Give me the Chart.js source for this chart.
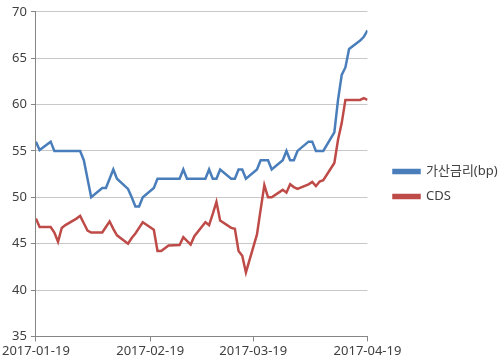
<!DOCTYPE html>
<html>
<head>
<meta charset="utf-8">
<script src="https://cdn.jsdelivr.net/npm/chart.js@4"></script>
<style>
  html, body { margin: 0; padding: 0; background: #fff; }
  #wrap { width: 500px; height: 363px; }
</style>
</head>
<body>
<div id="wrap"><canvas id="spreadChart"></canvas></div>
<script>
// trading days, 2017-01-19 .. 2017-04-19
const dates = [
  '2017-01-19', '2017-01-20', '2017-01-23', '2017-01-24', '2017-01-25', '2017-01-26', '2017-01-27',
  '2017-01-30', '2017-01-31', '2017-02-01', '2017-02-02', '2017-02-03',
  '2017-02-06', '2017-02-07', '2017-02-08', '2017-02-09', '2017-02-10',
  '2017-02-13', '2017-02-14', '2017-02-15', '2017-02-16', '2017-02-17',
  '2017-02-20', '2017-02-21', '2017-02-22', '2017-02-23', '2017-02-24',
  '2017-02-27', '2017-02-28', '2017-03-01', '2017-03-02', '2017-03-03',
  '2017-03-06', '2017-03-07', '2017-03-08', '2017-03-09', '2017-03-10',
  '2017-03-13', '2017-03-14', '2017-03-15', '2017-03-16', '2017-03-17',
  '2017-03-20', '2017-03-21', '2017-03-22', '2017-03-23', '2017-03-24',
  '2017-03-27', '2017-03-28', '2017-03-29', '2017-03-30', '2017-03-31',
  '2017-04-03', '2017-04-04', '2017-04-05', '2017-04-06', '2017-04-07',
  '2017-04-10', '2017-04-11', '2017-04-12', '2017-04-13', '2017-04-14',
  '2017-04-17', '2017-04-18', '2017-04-19'
];

const spreadBp = [
  56.0, 55.1, 56.0, 55.0, 55.0, 55.0, 55.0,
  55.0, 55.0, 54.0, 52.0, 50.0,
  51.0, 51.0, 52.0, 53.0, 52.0,
  50.9, 50.0, 49.0, 49.0, 50.0,
  51.0, 52.0, 52.0, 52.0, 52.0,
  52.0, 53.0, 52.0, 52.0, 52.0,
  52.0, 53.0, 52.0, 52.0, 53.0,
  52.0, 52.0, 53.0, 53.0, 52.0,
  53.0, 54.0, 54.0, 54.0, 53.0,
  54.0, 55.0, 54.0, 54.0, 55.0,
  56.0, 56.0, 55.0, 55.0, 55.0,
  57.0, 60.5, 63.2, 64.0, 66.0,
  66.9, 67.3, 68.0
];

const cds = [
  47.7, 46.8, 46.8, 46.2, 45.2, 46.7, 47.0,
  47.7, 48.0, 47.2, 46.4, 46.2,
  46.2, 46.8, 47.4, 46.6, 45.9,
  45.0, 45.6, 46.1, 46.7, 47.3,
  46.5, 44.2, 44.2, 44.5, 44.8,
  44.85, 45.7, 45.3, 44.9, 45.8,
  47.3, 47.0, 48.2, 49.5, 47.5,
  46.7, 46.6, 44.2, 43.7, 41.9,
  46.0, 48.7, 51.3, 50.0, 50.0,
  50.8, 50.5, 51.4, 51.1, 50.9,
  51.4, 51.65, 51.2, 51.7, 51.85,
  53.7, 56.2, 58.0, 60.5, 60.5,
  60.5, 60.7, 60.5
];

const tickDates = ['2017-01-19', '2017-02-19', '2017-03-19', '2017-04-19'];
const yTicks = [35, 40, 45, 50, 55, 60, 65, 70];

// day offsets from the first date, so the x axis keeps calendar spacing
const DAY = 86400000;
const t0 = Date.parse(dates[0]);
const dayOf = d => Math.round((Date.parse(d) - t0) / DAY);
const dateOf = n => new Date(t0 + n * DAY).toISOString().slice(0, 10);

const toPoints = vals => dates.map((d, i) => ({ x: dayOf(d), y: vals[i] }));

const fontFamily = "'Noto Sans', 'Noto Sans CJK KR', sans-serif";
const axisGray = '#868686';

// push the legend a little away from the plot, like the original
const legendShift = {
  id: 'legendShift',
  afterLayout(chart) {
    chart.legend.left += 14;
    chart.legend.right += 14;
  }
};

const ctx = document.getElementById('spreadChart').getContext('2d');

const spreadChart = new Chart(ctx, {
  type: 'line',
  data: {
    datasets: [{
      label: '가산금리(bp)',
      data: toPoints(spreadBp),
      borderColor: '#4a7ebb',
      backgroundColor: '#4a7ebb',
      borderWidth: 2.5,
      pointRadius: 0,
      tension: 0
    }, {
      label: 'CDS',
      data: toPoints(cds),
      borderColor: '#be4b48',
      backgroundColor: '#be4b48',
      borderWidth: 2.5,
      pointRadius: 0,
      tension: 0
    }]
  },
  plugins: [legendShift],
  options: {
    responsive: true,
    maintainAspectRatio: false,
    animation: false,
    layout: { padding: { top: 7, right: 10, bottom: 2, left: 0 } },
    plugins: {
      tooltip: { enabled: false },
      legend: {
        position: 'right',
        labels: {
          boxWidth: 26,
          boxHeight: 3,
          padding: 12,
          color: '#404040',
          font: { family: fontFamily, size: 13 }
        }
      }
    },
    scales: {
      x: {
        type: 'linear',
        min: dayOf(tickDates[0]),
        max: dayOf(tickDates[tickDates.length - 1]),
        afterBuildTicks: axis => {
          axis.ticks = tickDates.map(d => ({ value: dayOf(d) }));
        },
        border: { color: axisGray, width: 1 },
        grid: { drawOnChartArea: false, drawTicks: true, tickLength: 5, tickColor: axisGray },
        ticks: {
          autoSkip: false,
          maxRotation: 0,
          padding: 2,
          color: '#404040',
          font: { family: fontFamily, size: 13 },
          callback: v => dateOf(v)
        }
      },
      y: {
        min: yTicks[0],
        max: yTicks[yTicks.length - 1],
        afterBuildTicks: axis => {
          axis.ticks = yTicks.map(v => ({ value: v }));
        },
        border: { color: axisGray, width: 1 },
        grid: { color: '#c8c8c8', tickLength: 5, tickColor: axisGray },
        ticks: {
          padding: 4,
          color: '#404040',
          font: { family: fontFamily, size: 13 }
        }
      }
    }
  }
});
</script>
</body>
</html>
